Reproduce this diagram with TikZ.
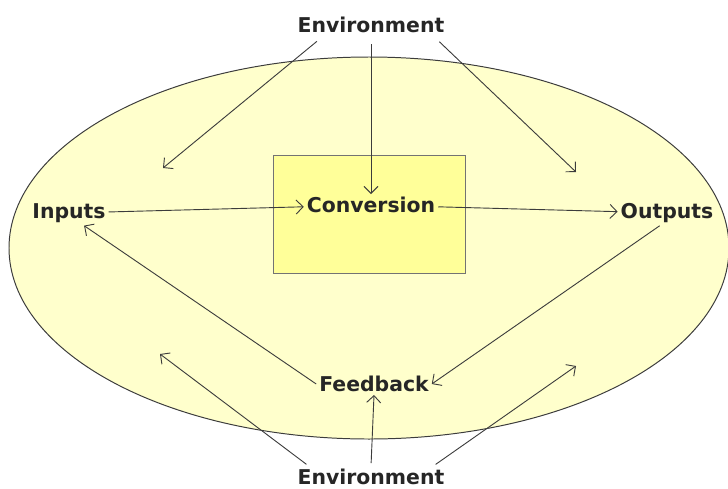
\documentclass[tikz,border=0pt]{standalone}
\usepackage{fontspec}
\setmainfont{DejaVu Sans}
\usepackage{tikz}
\usetikzlibrary{positioning, arrows.meta}
\usetikzlibrary{shapes,shapes.geometric}
\usepackage{xcolor}

\definecolor{paleyellow}{RGB}{255,255,204}
\definecolor{boxyellow}{RGB}{255,255,153}
\definecolor{linegray}{RGB}{60,60,60}

\tikzset{
	lbl/.style={font=\bfseries\fontsize{14.5}{17}\selectfont, text=black!85, inner sep=2pt},
	flow/.style={-{Straight Barb[length=5pt,width=10pt]}, draw=linegray, line width=0.65pt},
}

\begin{document}
\begin{tikzpicture}[x=0.025cm, y=-0.025cm]
	\useasboundingbox (0,0) rectangle (728,488);
	
	% system boundary and the conversion box
	\draw[draw=linegray, line width=0.7pt, fill=paleyellow] (369,248) ellipse [x radius=360, y radius=191];
	\node[draw=black!55, fill=boxyellow, minimum width=192*0.025cm, minimum height=118*0.025cm] (box) at (369,214) {};
	
	\node[lbl] (envtop) at (371,25) {Environment};
	\node[lbl] (inputs) at (69,213) {Inputs};
	\node[lbl] (conv) at (371,205) {Conversion};
	\node[lbl] (outputs) at (667,213) {Outputs};
	\node[lbl] (feedback) at (374,384) {Feedback};
	\node[lbl] (envbot) at (371,477) {Environment};
	
	\coordinate (inL) at (163,168);
	\coordinate (inR) at (576,172);
	\coordinate (outL) at (160,354);
	\coordinate (outR) at (576,366);
	
	\draw (envtop.-167) edge[flow, shorten <=6pt] (inL) ;
	\draw (envtop.south) edge[flow, shorten <=6pt] (conv.north) ;
	\draw (envtop.-10) edge[flow, shorten <=6pt] (inR) ;
	
	\draw (inputs) edge[flow] (conv) ;
	\draw (conv) edge[flow] (outputs) ;
	\draw (outputs.-120) edge[flow] (feedback.east) ;
	\draw (feedback.west) edge[flow] (inputs.-40) ;
	
	\draw (envbot.north) edge[flow, shorten <=2pt] (feedback.south) ;
	\draw (envbot.170) edge[flow, shorten <=2pt] (outL) ;
	\draw (envbot.10) edge[flow, shorten <=2pt] (outR) ;
	
\end{tikzpicture}
\end{document}
